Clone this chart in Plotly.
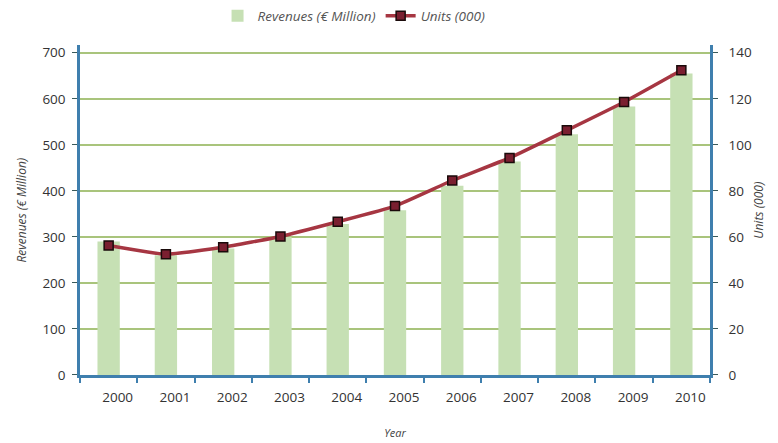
import plotly.graph_objects as go

years = ["2000", "2001", "2002", "2003", "2004", "2005", "2006", "2007", "2008", "2009", "2010"]
revenues = [290, 260, 275, 300, 328, 358, 411, 464, 523, 583, 655]
units = [56.3, 52.5, 55.5, 60.2, 66.6, 73.4, 84.5, 94.3, 106.3, 118.6, 132.4]
left_ticks = [0, 100, 200, 300, 400, 500, 600, 700]
right_ticks = [0, 20, 40, 60, 80, 100, 120, 140]

font_family = "Open Sans, Lato, DejaVu Sans"
axis_blue = "#3f7fae"
grid_green = "#a9c47c"

fig = go.Figure()
fig.add_trace(go.Bar(
    x=years, y=revenues, name="<i>Revenues (€ Million)</i>",
    marker=dict(color="#c6e0b4", line=dict(width=0)),
    width=0.39, yaxis="y",
))
fig.add_trace(go.Scatter(
    x=years, y=units, name="<i>Units (000)</i>", yaxis="y2",
    mode="lines+markers",
    line=dict(color="#a63642", width=3.5, shape="spline", smoothing=0.4),
    marker=dict(symbol="square", size=9, color="#7a1f30", line=dict(color="#1a0a0a", width=1.5)),
))

# The page body adds an 8px margin, so the figure's own margins compensate for it.
fig.update_layout(
    width=778, height=443,
    margin=dict(l=67, r=76, t=37, b=76),
    paper_bgcolor="white", plot_bgcolor="white",
    font=dict(family=font_family, color="#333333", size=12),
    showlegend=True,
    legend=dict(orientation="h", x=0.435, xanchor="center", y=0.982, yanchor="middle",
                yref="container",
                font=dict(size=13.5, color="#555555"), bgcolor="rgba(0,0,0,0)",
                traceorder="normal"),
    xaxis=dict(
        type="category", range=[-0.5, 10.5], showgrid=False, showline=True,
        linecolor=axis_blue, linewidth=2.5,
        ticks="outside", tickson="boundaries", ticklen=5, tickcolor=axis_blue, tickwidth=1.5,
        tickfont=dict(size=13.5, color="#333333"), ticklabelshift=9, ticklabelstandoff=8,
        title=dict(text="<i>Year</i>", font=dict(size=11, color="#444444"), standoff=25),
        zeroline=False,
    ),
    yaxis=dict(
        range=[0, 716], tickvals=left_ticks, showgrid=True, gridcolor=grid_green, gridwidth=1.5,
        showline=True, linecolor=axis_blue, linewidth=2.5, ticks="outside", ticklen=5,
        tickcolor="#3a5a5a", tickwidth=1, zeroline=False,
        tickfont=dict(size=13.5, color="#333333"), ticklabelstandoff=4,
        title=dict(text="<i>Revenues (€ Million)</i>", font=dict(size=12, color="#444444"), standoff=14),
    ),
    yaxis2=dict(
        range=[0, 143.2], tickvals=right_ticks, overlaying="y", side="right", showgrid=False,
        showline=True, linecolor=axis_blue, linewidth=2.5, ticks="outside", ticklen=5,
        tickcolor="#3a5a5a", tickwidth=1, zeroline=False,
        tickfont=dict(size=13.5, color="#333333"), ticklabelstandoff=8,
        title=dict(text="<i>Units (000)</i>", font=dict(size=12, color="#444444"), standoff=4),
    ),
)

fig.write_html("out.html")
